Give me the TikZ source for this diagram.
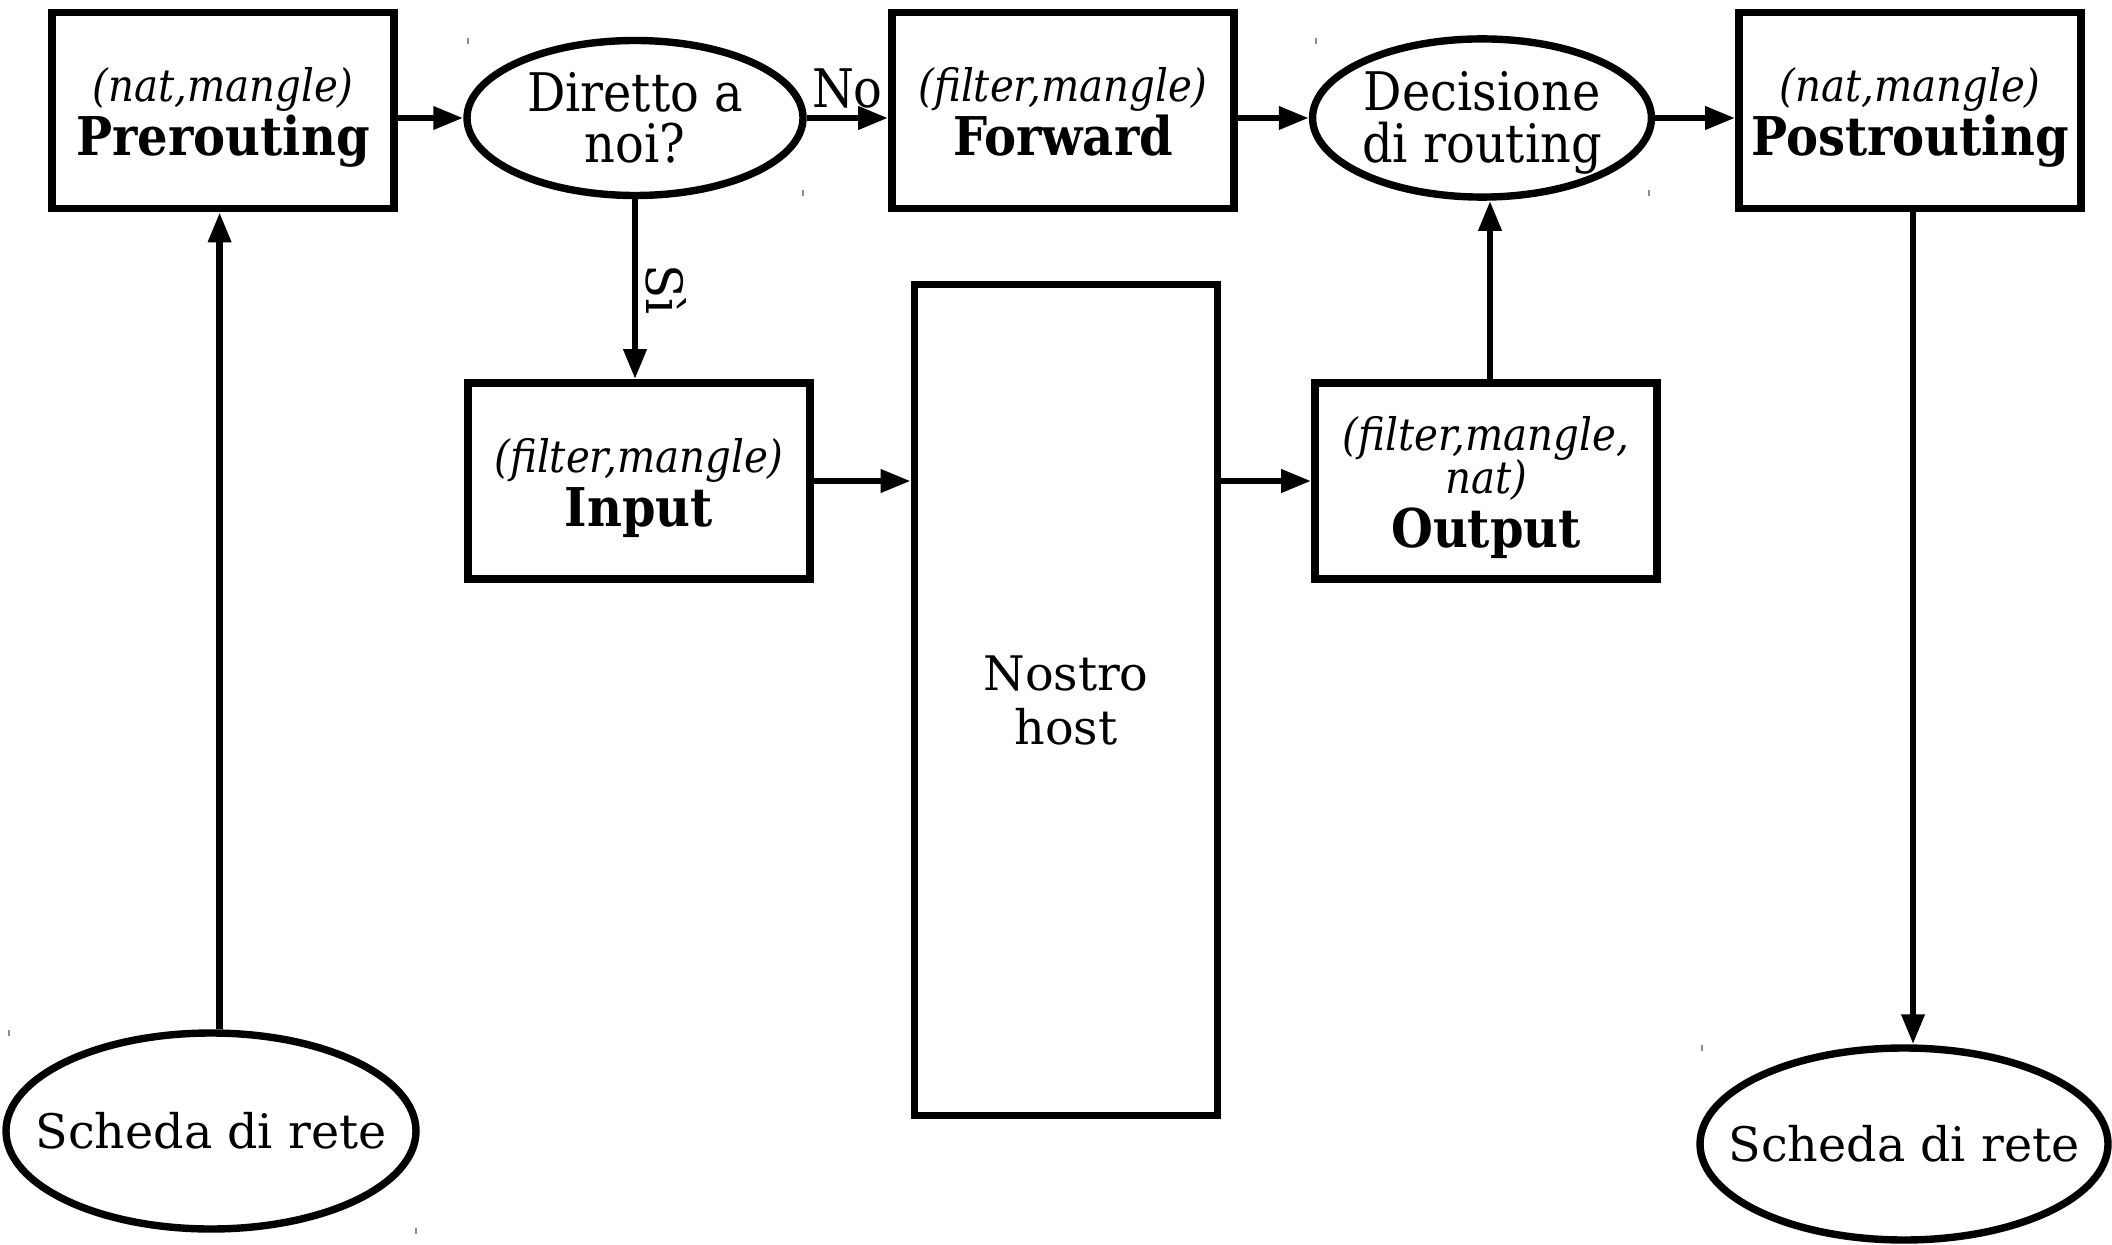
\documentclass[tikz,border=0pt]{standalone}
\usepackage{fontspec}
\setmainfont{DejaVu Serif}
\newfontfamily\condserif{DejaVu Serif Condensed}
\usetikzlibrary{shapes.geometric,arrows.meta}

\tikzset{
  chain/.style={draw, line width=3.8pt, rectangle, minimum width=171pt,
    minimum height=98pt, inner sep=0pt, align=center,
    font=\condserif\fontsize{26.7pt}{27pt}\selectfont},
  oval/.style={draw, line width=3.7pt, ellipse, inner sep=0pt, align=center},
  condtext/.style={font=\condserif\fontsize{26.6pt}{25.8pt}\selectfont},
  plaintext/.style={font=\fontsize{23.8pt}{27pt}\selectfont},
  flow/.style={line width=3.3pt, -{Triangle[length=15pt,width=11pt]}},
  tick/.style={draw=black!45, line width=0.6pt},
}
% table list (italic) and chain name (bold, with a fixed depth)
\newcommand{\tbl}[1]{{\itshape\fontsize{22.4pt}{22pt}\selectfont #1}}
\newcommand{\nm}[1]{{\bfseries #1\vphantom{g}}}
% extra room above the first line, lowering the text block a little
\newcommand{\topgap}{\raisebox{4pt}{\vphantom{(}}}

\begin{document}
\begin{tikzpicture}[x=0.5pt, y=-0.5pt]
  \useasboundingbox (0,0) rectangle (2112,1245);

  % chains across the top row
  \node[chain] (pre)  at (223,110.5)  {\topgap\tbl{(nat,mangle)}\\\nm{Prerouting}};
  \node[chain] (fwd)  at (1063,110.5) {\topgap\tbl{(filter,mangle)}\\\nm{Forward}};
  \node[chain] (post) at (1910,110.5) {\topgap\tbl{(nat,mangle)}\\\nm{Postrouting}};

  % routing decisions
  \node[oval, condtext, minimum width=168pt, minimum height=77.5pt]
        (dir) at (635,118) {Diretto a\\noi?};
  \node[oval, condtext, minimum width=167pt, minimum height=77.5pt]
        (dec) at (1482,118) {\topgap Decisione\\di routing};

  % local chains and host
  \node[chain] (in)  at (639,481)  {\topgap\tbl{(filter,mangle)}\\\nm{Input}};
  \node[chain] (out) at (1486,481) {\topgap\tbl{(filter,mangle,}\\[-5.5pt]\tbl{nat)}\\\nm{Output}};
  \node[draw, line width=3.8pt, rectangle, minimum width=151.5pt,
        minimum height=415.5pt, inner sep=0pt, align=center, plaintext]
        (host) at (1066,700) {Nostro\\host};

  % network interfaces (text box kept narrow so the oval keeps its size)
  \node[oval, plaintext, minimum width=205pt, minimum height=98pt]
        (nicin) at (211,1131) {\makebox[0pt]{Scheda di rete}};
  \node[oval, plaintext, minimum width=204pt, minimum height=96pt]
        (nicout) at (1904,1144) {\makebox[0pt]{Scheda di rete}};

  % packet flow
  \draw[flow] (pre.east |- dir) -- (dir.west);
  \draw[flow] (dir.east) -- node[above=0pt, condtext] {No} (fwd.west |- dir);
  \draw[flow] (fwd.east |- dec) -- (dec.west);
  \draw[flow] (dec.east) -- (post.west |- dec);
  \draw[flow] (dir.south) -- node[anchor=south, rotate=-90, inner sep=3.5pt,
        font=\fontsize{25pt}{27pt}\selectfont] {Sì} (dir.south |- in.north);
  \draw[flow] (in.east) -- (in.east -| host.west);
  \draw[flow] (host.east |- out) -- (out.west);
  \draw[flow] ([xshift=2pt]out.north) -- ([xshift=2pt]out.north |- dec.south);
  \coordinate (upx) at ([xshift=-1.7pt]pre.south);
  \draw[flow] (upx |- nicin.north) -- (upx);
  \coordinate (downx) at ([xshift=1.5pt]post.south);
  \draw[flow] (downx) -- (downx |- nicout.north);

  % small bounding marks left around the ovals
  \foreach \p in {(468,38),(803,190),(1316,38),(1649,190),(9,1030),(416,1228),(1702,1045)}
    \draw[tick] \p -- ++(0,6);
\end{tikzpicture}
\end{document}
